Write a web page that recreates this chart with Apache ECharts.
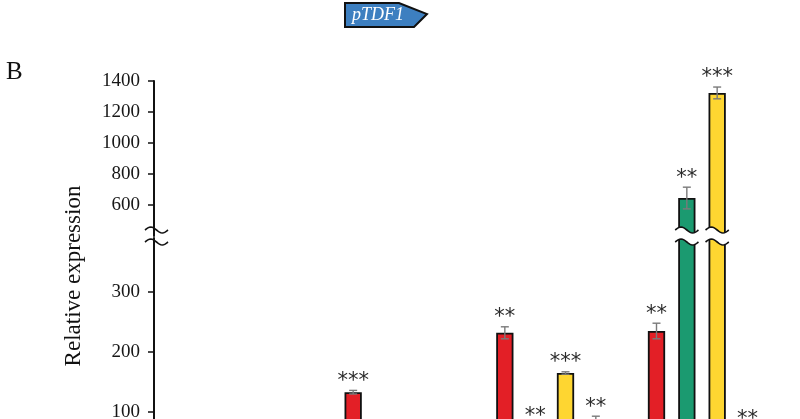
<!DOCTYPE html>
<html><head><meta charset="utf-8">
<script src="https://cdn.jsdelivr.net/npm/echarts@6/dist/echarts.min.js"></script>
<style>html,body{margin:0;padding:0;background:#fff}#c{width:800px;height:419px}</style>
</head><body><div id="c"></div>
<script>
// ---- data ----
const groups = ['1', '2', '3', '4'];
const redValues    = [1, 133, 232, 235];
const redErrors    = [0.1, 3, 10, 13];
const redMarks     = ['', '***', '**', '**'];
const greenValues  = [1, 30, 70, 645];
const greenErrors  = [0.1, 4, 7, 70];
const greenMarks   = ['', '', '**', '**'];
const yellowValues = [1, 22, 165, 1323];
const yellowErrors = [0.1, 3, 2, 38];
const yellowMarks  = ['', '', '***', '***'];
const blueValues   = [1, 15, 88, 66];
const blueErrors   = [0.1, 2, 5, 6];
const blueMarks    = ['', '', '**', '**'];
const upperTicks = [600, 800, 1000, 1200, 1400];
const lowerTicks = [0, 100, 200, 300];
const yTitle = 'Relative expression';
const panelLabel = 'B';
const geneLabel = 'pTDF1';

// ---- layout ----
const series4 = [
  {v: redValues, e: redErrors, m: redMarks, color: '#e31f26'},
  {v: greenValues, e: greenErrors, m: greenMarks, color: '#1b9a70'},
  {v: yellowValues, e: yellowErrors, m: yellowMarks, color: '#fed631'},
  {v: blueValues, e: blueErrors, m: blueMarks, color: '#3a7dc0'}
];
const PER_GROUP = 5; // 4 bars + 1 gap slot
const SLOTS = 1 + groups.length * PER_GROUP;
const slotOf = (g, s) => 1 + g * PER_GROUP + s;
const slotCats = Array.from({length: SLOTS}, () => '');
const BAR_FRAC = 0.57;
const UP_MIN = 400, UP_MAX = 1400, LO_MIN = 0, LO_MAX = 390;
const GRID_LEFT = 156, GRID_RIGHT = 7, AX_OFF = 2;
const UP_TOP = 81, UP_H = 155, LO_TOP = 238, LO_H = 234;

const items = [];
series4.forEach((s, k) => s.v.forEach((v, g) => items.push([slotOf(g, k), v, s.e[g], s.m[g]])));

function barData(k) {
  const arr = new Array(SLOTS).fill('-');
  series4[k].v.forEach((v, g) => { arr[slotOf(g, k)] = v; });
  return arr;
}

function wave(xL, xR, yc, A, n, reverse) {
  const pts = [];
  for (let i = 0; i <= n; i++) {
    const t = i / n;
    pts.push([xL + t * (xR - xL), yc - A * Math.sin(2 * Math.PI * t)]);
  }
  return reverse ? pts.reverse() : pts;
}
const BRK_Y1 = UP_TOP + UP_H - 6; // upper wave
const BRK_Y2 = LO_TOP + 4;        // lower wave

function breakShapes(xL, xR) {
  const top = wave(xL, xR, BRK_Y1, 3, 16, false);
  const bot = wave(xL, xR, BRK_Y2, 3, 16, true);
  return [
    {type: 'polygon', shape: {points: top.concat(bot)}, style: {fill: '#fff', stroke: null}},
    {type: 'polyline', shape: {points: top}, style: {stroke: '#111', lineWidth: 1.6, fill: null}},
    {type: 'polyline', shape: {points: bot}, style: {stroke: '#111', lineWidth: 1.6, fill: null}}
  ];
}

function errRender(which) {
  return function (params, api) {
    const v = api.value(1), e = api.value(2);
    const mark = items[params.dataIndex][3];
    if (which === 0 && v <= UP_MIN) return;
    if (which === 1 && v > LO_MAX) return;
    const x = api.coord([api.value(0), v])[0];
    const yHi = api.coord([api.value(0), v + e])[1];
    const yLo = api.coord([api.value(0), v - e])[1];
    const cap = 4;
    const st = {stroke: '#7a7a7a', lineWidth: 1.4};
    const ch = [
      {type: 'line', shape: {x1: x, y1: yHi, x2: x, y2: yLo}, style: st},
      {type: 'line', shape: {x1: x - cap, y1: yHi, x2: x + cap, y2: yHi}, style: st},
      {type: 'line', shape: {x1: x - cap, y1: yLo, x2: x + cap, y2: yLo}, style: st}
    ];
    if (mark) ch.push({type: 'text', style: {text: mark, x: x, y: yHi - 9, align: 'center', verticalAlign: 'middle',
      font: '21px "DejaVu Sans"', fill: '#2b2b2b'}});
    return {type: 'group', children: ch};
  };
}

function breakRender(params, api) {
  const v = api.value(1);
  if (v <= LO_MAX) return;
  const x = api.coord([api.value(0), 0])[0];
  const bw = api.size([1, 0])[0] * BAR_FRAC;
  return {type: 'group', children: breakShapes(x - bw / 2 - 3, x + bw / 2 + 3)};
}

const barSeries = [];
[0, 1].forEach(gi => series4.forEach((s, k) => barSeries.push({
  type: 'bar', xAxisIndex: gi, yAxisIndex: gi, data: barData(k), barWidth: (BAR_FRAC * 100) + '%',
  barGap: '-100%', itemStyle: {color: s.color, borderColor: '#111', borderWidth: 1.8}, silent: true, z: 2
})));

function yAx(gi, min, max, ticks) {
  return {
    type: 'value', gridIndex: gi, min: min, max: max, offset: AX_OFF,
    axisLine: {show: true, lineStyle: {color: '#111', width: 2}},
    axisTick: {show: true, length: 6, lineStyle: {color: '#111', width: 1.5}, customValues: ticks},
    axisLabel: {customValues: ticks, margin: 14, color: '#161616', fontSize: 19, fontFamily: '"Liberation Serif", serif',
      formatter: v => String(v)},
    splitLine: {show: false}
  };
}
function xAx(gi) {
  return {type: 'category', gridIndex: gi, data: slotCats, show: false};
}

const axX = GRID_LEFT - AX_OFF;
const chart = echarts.init(document.getElementById('c'), null, {renderer: 'canvas'});
chart.setOption({
  animation: false,
  backgroundColor: '#fff',
  grid: [
    {left: GRID_LEFT, right: GRID_RIGHT, top: UP_TOP, height: UP_H, containLabel: false, outerBoundsMode: 'none'},
    {left: GRID_LEFT, right: GRID_RIGHT, top: LO_TOP, height: LO_H, containLabel: false, outerBoundsMode: 'none'}
  ],
  xAxis: [xAx(0), xAx(1)],
  yAxis: [yAx(0, UP_MIN, UP_MAX, upperTicks), yAx(1, LO_MIN, LO_MAX, lowerTicks)],
  series: barSeries.concat([
    {type: 'custom', xAxisIndex: 0, yAxisIndex: 0, data: items, renderItem: errRender(0), z: 5, silent: true},
    {type: 'custom', xAxisIndex: 1, yAxisIndex: 1, data: items, renderItem: errRender(1), z: 5, silent: true},
    {type: 'custom', xAxisIndex: 1, yAxisIndex: 1, data: items, renderItem: breakRender, z: 8, silent: true}
  ]),
  graphic: [
    {type: 'group', z: 100, children: breakShapes(axX - 9, axX + 14)},
    {type: 'text', z: 100, x: 74, y: 276, rotation: Math.PI / 2,
      style: {text: yTitle, font: '23px "Liberation Serif"', align: 'center', verticalAlign: 'middle', fill: '#111'}},
    {type: 'text', z: 100, x: 6, y: 72,
      style: {text: panelLabel, font: '25px "Liberation Serif"', align: 'left', verticalAlign: 'middle', fill: '#111'}},
    {type: 'polygon', z: 100, shape: {points: [[345, 3], [399, 3], [427, 14], [414, 27], [345, 27]]},
      style: {fill: '#3d7fc0', stroke: '#111', lineWidth: 2}},
    {type: 'text', z: 101, x: 378, y: 15,
      style: {text: geneLabel, font: 'italic 18px "Liberation Serif"', align: 'center', verticalAlign: 'middle', fill: '#fff'}}
  ]
});
</script></body></html>
